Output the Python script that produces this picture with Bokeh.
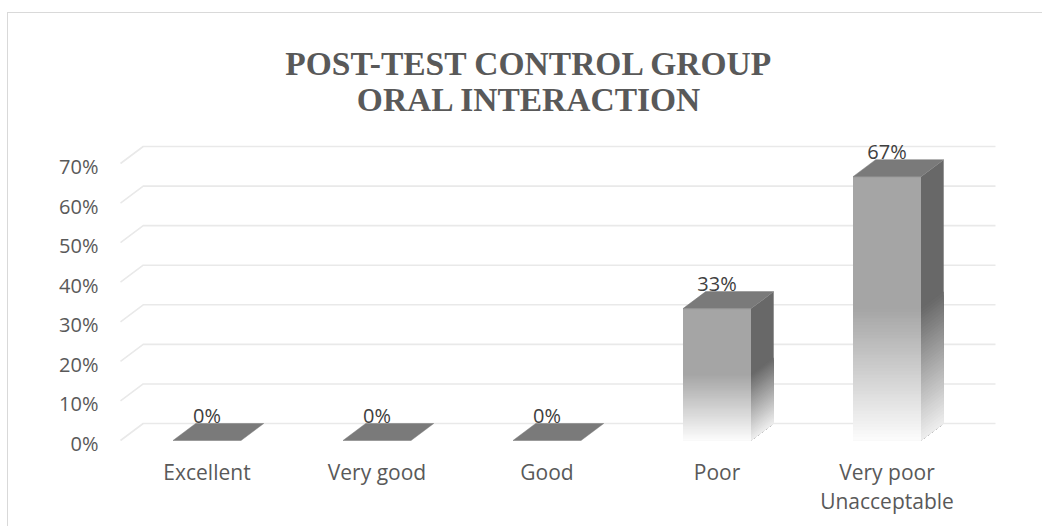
import numpy as np
from bokeh.plotting import figure
from bokeh.models import (Range1d, FixedTicker, PrintfTickFormatter, LinearAxis,
                          Label, LabelSet, ColumnDataSource)
from bokeh.embed import file_html
from bokeh.resources import INLINE
from bokeh.core.properties import value

# ---- data ----
categories = ["Excellent", "Very good", "Good", "Poor", "Very poor\nUnacceptable"]
values = [0, 0, 0, 33.33, 66.67]
value_labels = ["0%", "0%", "0%", "33%", "67%"]
y_ticks = [0, 10, 20, 30, 40, 50, 60, 70]
title_lines = ["POST-TEST CONTROL GROUP", "ORAL INTERACTION"]

# ---- geometry / style (reference pixel coordinates) ----
OX, OY = 8, 13                 # canvas origin on the page (after css margin + border)
W, H = 1035, 514
FL, FR, FB = 112, 1000, 455    # frame left/right/bottom in page pixels; frame top = canvas top
PX_X = 170.0                   # pixels per category
PX_Y = 3.957                   # pixels per percent
CX0, CY0 = 206.5, 440.0        # page pixel of category 0 / value 0 (front)
BAR_W = 68.0 / PX_X
DX = 22.7 / PX_X               # depth offset (x)
DY = 17.0 / PX_Y               # depth offset (y)
X0 = (FL - CX0) / PX_X
X1 = (FR - CX0) / PX_X
Y0 = (CY0 - FB) / PX_Y
Y1 = (CY0 - OY) / PX_Y

def hexc(r):
    r = int(round(r))
    return "#%02x%02x%02x" % (r, r, r)

p = figure(width=W, height=H, output_backend="svg", toolbar_location=None,
           x_range=Range1d(X0, X1), y_range=Range1d(Y0, Y1),
           min_border_left=FL - OX, min_border_right=W - (FR - OX), min_border_top=0,
           min_border_bottom=H - (FB - OY), x_axis_location=None, y_axis_location=None)
p.outline_line_color = None
p.grid.visible = False
p.background_fill_color = "white"
p.border_fill_color = "white"
p.styles = {"border-top": "1px solid #d9d9d9", "border-left": "1px solid #d9d9d9",
            "margin-top": "12px", "margin-left": "7px"}

# axes
p.extra_y_ranges = {"lab": Range1d(Y0 + 0.76, Y1 + 0.76)}
yax = LinearAxis(y_range_name="lab", ticker=FixedTicker(ticks=y_ticks),
                 formatter=PrintfTickFormatter(format="%d%%"))
yax.axis_line_color = None
yax.major_tick_line_color = None
yax.minor_tick_line_color = None
yax.major_tick_out = 0
yax.major_label_standoff = 14
yax.major_label_text_font = "Open Sans"
yax.major_label_text_font_size = "20px"
yax.major_label_text_color = "#595959"
p.add_layout(yax, "left")

xax = LinearAxis(ticker=FixedTicker(ticks=list(range(len(categories)))),
                 major_label_overrides={i: c for i, c in enumerate(categories)})
xax.axis_line_color = None
xax.major_tick_line_color = None
xax.minor_tick_line_color = None
xax.major_tick_out = 0
xax.major_label_standoff = 2
xax.major_label_text_font = "Open Sans"
xax.major_label_text_font_size = "21px"
xax.major_label_text_color = "#595959"
xax.major_label_text_line_height = 1.05
p.add_layout(xax, "below")

# gridlines (3D: short slanted front piece + back wall line)
gx0 = (120 - CX0) / PX_X
gx1 = (995 - CX0) / PX_X
gxs, gys = [], []
for t in y_ticks:
    gxs.append([gx0, gx0 + DX, gx1])
    gys.append([t, t + DY, t + DY])
p.multi_line(gxs, gys, line_color="#e9e9e9", line_width=1.6)

# bars (gradient emulated by overlapping strips, each reaching to the floor)
FRONT_TOP, FRONT_BOT = 165, 252
SIDE_TOP, SIDE_BOT = 104, 238
TOP_C = "#7a7a7a"
N = 40
fq = dict(left=[], right=[], bottom=[], top=[], color=[])
sx, sy, sc = [], [], []
tx, ty = [], []
for i, v in enumerate(values):
    l, r = i - BAR_W / 2, i + BAR_W / 2
    if v > 0:
        fr = [0.0] + list(np.linspace(0.5, 1.0, N + 1)[:-1])
        for j, a in enumerate(fr):
            yt = v * (1 - a)
            b = fr[j + 1] if j + 1 < len(fr) else 1.0
            m = (a + b) / 2
            k = 0.0 if b <= 0.5 else (m - 0.5) / 0.5
            fq["left"].append(l); fq["right"].append(r)
            fq["bottom"].append(0); fq["top"].append(yt)
            fq["color"].append(hexc(FRONT_TOP + (FRONT_BOT - FRONT_TOP) * k))
            sx.append([r, r + DX, r + DX, r])
            sy.append([yt, yt + DY, DY, 0])
            sc.append(hexc(SIDE_TOP + (SIDE_BOT - SIDE_TOP) * k))
    tx.append([l, r, r + DX, l + DX])
    ty.append([v, v, v + DY, v + DY])

p.quad(left="left", right="right", bottom="bottom", top="top", color="color",
       source=ColumnDataSource(fq), line_width=0)
p.patches(sx, sy, fill_color=sc, line_color=None)
p.patches(tx, ty, fill_color=TOP_C, line_color=TOP_C, line_width=0.5)

# value labels
src = ColumnDataSource(dict(x=list(range(len(values))), y=values, t=value_labels))
p.add_layout(LabelSet(x="x", y="y", text="t", source=src, y_offset=25,
                      text_align="center", text_baseline="middle",
                      text_font=value("Open Sans"), text_font_size=value("20px"),
                      text_color=value("#404040")))

# title (placed inside the frame, which reaches the top of the canvas)
for line, base in zip(title_lines, [63, 99]):
    p.add_layout(Label(x=(529 - CX0) / PX_X, y=(CY0 - base) / PX_Y, text=line,
                       text_align="center", text_baseline="alphabetic",
                       text_font="Liberation Serif", text_font_style="bold",
                       text_font_size="33.5px", text_color="#595959"))

open("out.html", "w").write(file_html(p, INLINE))
